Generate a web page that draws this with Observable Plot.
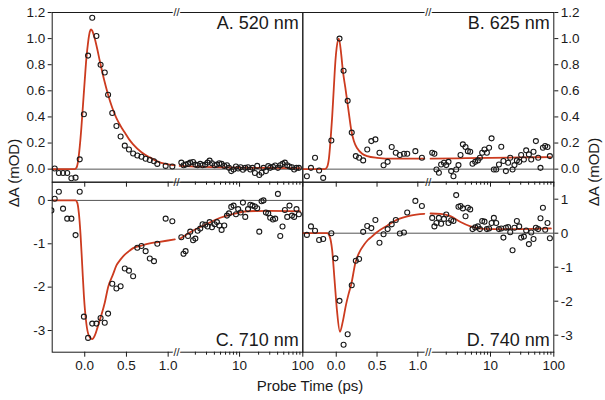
<!DOCTYPE html>
<html><head><meta charset="utf-8">
<script src="https://cdn.jsdelivr.net/npm/d3@7"></script>
<script src="https://cdn.jsdelivr.net/npm/@observablehq/plot@0.6"></script>
<style>
html,body{margin:0;padding:0;background:#fff;}
#chart{position:relative;width:605px;height:400px;font-family:"Liberation Sans",Arial,sans-serif;color:#1a1a1a;}
#chart svg{position:absolute;left:0;top:0;}
.lbl{position:absolute;font-size:15px;line-height:15px;white-space:nowrap;}
.rot{transform:translate(-50%,-50%) rotate(-90deg);}
</style></head><body><div id="chart"></div>
<script>
// ---------- data ----------
const tLin = [-0.40,-0.36,-0.31,-0.26,-0.21,-0.16,-0.11,-0.06,-0.01,0.04,0.09,0.14,0.19,0.24,0.28,0.33,0.38,0.43,0.48,0.53,0.58,0.63,0.68,0.73,0.78,0.83,0.87,0.92,0.97,1.05];
const tLog = [1.20,1.30,1.40,1.53,1.66,1.84,2.00,2.17,2.39,2.60,2.87,3.12,3.36,3.66,4.03,4.39,4.78,5.20,5.73,6.32,6.80,7.39,8.04,8.77,9.50,10.4,11.3,12.3,13.6,14.8,16.0,17.5,19.0,20.5,22.3,23.9,26.1,28.4,30.5,33.7,36.6,40.4,44.0,47.8,52.1,56.7,61.6,67.3,73.1,79.5,86.7];

const aLin = [null,0.005,-0.03,-0.03,-0.03,-0.07,-0.065,0.075,0.42,0.87,1.16,1.02,0.80,0.74,0.57,0.43,0.33,0.25,0.18,0.15,0.12,0.105,0.095,0.08,0.07,0.06,0.04,null,0.025,0.02];
const bLin = [null,-0.054,0.01,0.087,-0.01,-0.067,null,0.22,null,1.0,0.754,0.523,0.28,0.10,0.087,0.067,0.15,0.215,0.228,0.126,0.03,0.056,0.17,0.126,0.108,0.118,0.118,null,0.138,0.087];
const cLin = [-0.23,0.04,0.2,-0.19,-0.42,-0.42,-0.8,0.2,-2.68,-3.17,-2.84,-2.84,-2.71,-2.82,-2.61,-1.92,-2.03,-1.98,-1.57,-1.62,-1.75,-1.09,-1.05,-1.17,-1.34,-1.4,-1.0,null,-0.42,-0.48];
const dLin = [null,-0.05,0.20,0.07,-0.2,-0.17,null,0.0,-0.74,-1.99,-3.28,-2.97,-1.53,-0.81,-0.76,0.04,0.21,0.15,0.39,-0.28,-0.03,0.12,0.26,0.39,-0.01,0.02,0.61,null,0.95,0.8];

const aLog = [0.05,0.03,0.035,0.04,0.05,0.055,0.035,0.03,0.04,0.03,0.035,0.05,0.065,0.045,0.03,0.035,0.045,0.04,0.025,0.03,0.01,-0.015,-0.003,0.02,0.005,0.015,-0.005,0.01,0.015,-0.003,0.01,-0.03,0.025,-0.045,-0.028,0.01,-0.015,0.023,0.01,0.018,0.028,0.01,0.03,0.04,0.05,0.03,0.02,0.015,-0.003,0.01,0.01];
const bLog = [0.126,0.118,-0.003,-0.028,0.036,0.049,0.031,0.056,-0.015,-0.054,-0.003,0.031,0.108,0.19,0.17,0.138,0.133,0.041,0.056,0.067,0.087,0.126,0.151,0.126,0.164,0.236,-0.003,-0.003,0.036,0.172,0.062,-0.015,0.049,0.087,-0.003,0.031,0.067,0.056,0.108,0.074,0.144,0.113,0.074,0.133,0.215,0.087,0.01,0.164,0.177,0.17,0.1];
const cLog = [-0.85,-1.23,-1.17,-0.82,-0.72,-0.92,-0.88,-0.7,-0.65,-0.55,-0.56,-0.6,-0.5,-0.62,-0.55,-0.5,-0.58,-0.68,-0.58,-0.35,-0.3,-0.15,-0.12,-0.32,-0.2,-0.28,-0.05,-0.38,-0.2,-0.1,-0.12,-0.14,-0.18,-0.72,-0.02,0.0,-0.28,-0.3,-0.4,-0.44,-0.42,0.15,-0.82,-0.6,-0.22,-0.38,-0.12,-0.35,-0.38,-0.2,-0.32];
const dLog = [0.45,0.2,0.3,0.45,0.28,0.42,0.55,0.3,0.38,0.36,1.12,0.78,0.8,0.73,0.5,0.75,0.7,0.12,0.17,0.2,0.12,0.36,0.34,0.12,0.14,0.3,0.45,0.3,0.12,0.14,-0.13,0.16,0.18,0.03,-0.5,0.16,0.36,0.2,-0.13,-0.1,0.08,-0.32,0.02,-0.17,0.16,0.12,0.44,0.75,0.1,0.3,-0.15];

// fitted curves [time, value]
const fitALin = [[-0.40,0],[-0.12,0],[-0.10,0.01],[-0.08,0.06],[-0.06,0.17],[-0.04,0.32],[-0.02,0.5],[0.0,0.68],[0.02,0.85],[0.04,0.97],[0.06,1.05],[0.075,1.07],[0.09,1.06],[0.12,1.0],[0.15,0.92],[0.18,0.83],[0.23,0.69],[0.28,0.57],[0.33,0.47],[0.38,0.39],[0.43,0.33],[0.48,0.28],[0.53,0.23],[0.58,0.19],[0.68,0.13],[0.78,0.09],[0.87,0.06],[0.97,0.04],[1.08,0.03]];
const fitALog = [[1.13,0.025],[2,0.02],[5,0.014],[10,0.011],[30,0.009],[90,0.008]];
const fitBLin = [[-0.42,0],[-0.14,0],[-0.11,0.02],[-0.09,0.08],[-0.07,0.22],[-0.05,0.4],[-0.03,0.62],[-0.01,0.83],[0.005,0.93],[0.032,1.0],[0.061,0.88],[0.081,0.754],[0.11,0.63],[0.135,0.52],[0.163,0.39],[0.184,0.3],[0.216,0.215],[0.257,0.16],[0.318,0.118],[0.38,0.10],[0.5,0.087],[0.7,0.08],[1.08,0.08]];
const fitBLog = [[1.13,0.08],[3,0.083],[10,0.087],[30,0.09],[90,0.092]];
const fitCLin = [[-0.40,0],[-0.11,0],[-0.09,-0.05],[-0.07,-0.3],[-0.05,-0.8],[-0.03,-1.5],[-0.01,-2.2],[0.02,-2.85],[0.05,-3.12],[0.09,-3.2],[0.12,-3.12],[0.15,-2.95],[0.19,-2.7],[0.24,-2.36],[0.28,-2.0],[0.34,-1.7],[0.38,-1.5],[0.43,-1.36],[0.48,-1.25],[0.53,-1.17],[0.58,-1.1],[0.68,-1.04],[0.78,-0.99],[0.88,-0.96],[0.98,-0.93],[1.08,-0.9]];
const fitCLog = [[1.16,-0.88],[1.88,-0.69],[3.05,-0.54],[4.95,-0.4],[8.04,-0.31],[13.1,-0.25],[30,-0.24],[90,-0.25]];
const fitDLin = [[-0.42,0],[-0.11,0],[-0.08,-0.1],[-0.05,-0.5],[-0.02,-1.4],[0.01,-2.3],[0.045,-2.9],[0.08,-2.6],[0.12,-2.1],[0.15,-1.8],[0.184,-1.5],[0.237,-0.85],[0.286,-0.55],[0.338,-0.35],[0.387,-0.2],[0.436,-0.1],[0.494,0.02],[0.624,0.22],[0.747,0.4],[0.91,0.52],[1.08,0.57]];
const fitDLog = [[1.13,0.58],[1.62,0.57],[2.33,0.5],[3.36,0.33],[4.83,0.2],[7.8,0.13],[14.4,0.12],[48.3,0.13],[90,0.14]];

// axis ticks
const xMajor = [0, 0.5, 1.0, 10, 100];
const xMajorLabels = ["0.0", "0.5", "1.0", "10", "100"];
const xMinor = [2,3,4,5,6,7,8,9,20,30,40,50,60,70,80,90];
const yTicksTop = [0, 0.2, 0.4, 0.6, 0.8, 1.0, 1.2];
const yTicksC = [0, -1, -2, -3];
const yTicksD = [1, 0, -1, -2, -3];
const titles = ["A. 520 nm", "B. 625 nm", "C. 710 nm", "D. 740 nm"];

// ---------- rendering ----------
const RED = "#cc3b1f", INK = "#1a1a1a";
const FONT = '"Liberation Sans", Arial, sans-serif';
// broken x axis: linear segment up to the break, then log segment
const cols = {
  left:  {lo: -0.39, off: 1.098, k: 0.758, brk: 1.1, x0: 51.7, x1: 302.3},
  right: {lo: -0.41, off: 1.115, k: 0.776, brk: 1.128, x0: 302.3, x1: 553.3}
};
const toU = (c, t) => t <= 1.1 ? t : c.off + c.k * Math.log10(t);

function panel({col, top, lin, log, fitLin, fitLog, yDomain, yTicks, yFmt, side, title, xLabels}) {
  const c = cols[col];
  const pts = [];
  tLin.forEach((t, i) => { if (lin[i] != null) pts.push({u: toU(c, t), v: lin[i]}); });
  tLog.forEach((t, i) => { if (log[i] != null) pts.push({u: toU(c, t), v: log[i]}); });
  const fit = [
    ...fitLin.map(([t, v]) => ({u: toU(c, t), v, s: "lin"})),
    ...fitLog.map(([t, v]) => ({u: toU(c, t), v, s: "log"}))
  ];
  const majU = xMajor.map(t => toU(c, t));
  const lab = new Map(majU.map((u, i) => [u, xMajorLabels[i]]));
  const minU = xMinor.map(t => toU(c, t));
  const marks = [
    Plot.ruleY([0], {stroke: "#555", strokeWidth: 1}),
    Plot.line(fit, {x: "u", y: "v", z: "s", stroke: RED, strokeWidth: 1.8, curve: "monotone-x", clip: true}),
    Plot.dot(pts, {x: "u", y: "v", r: 2.5, stroke: INK, strokeWidth: 1.1, fill: "none", clip: true}),
    Plot.frame({stroke: INK, strokeWidth: 1}),
    Plot.axisX({ticks: majU, anchor: "bottom", tickSize: 5, tickPadding: 3, label: null,
      tickFormat: u => xLabels ? lab.get(u) : ""}),
    Plot.axisX({ticks: minU, anchor: "bottom", tickSize: 3, label: null, tickFormat: () => ""}),
    Plot.axisY({ticks: yTicks, anchor: side, tickSize: 4, tickPadding: 3, label: null, tickFormat: yFmt}),
    Plot.text([title], {frameAnchor: top ? "top-right" : "bottom-right", lineAnchor: top ? "top" : "bottom",
      dx: -4, dy: top ? 4 : -6, fontSize: 18, textAnchor: "end", fill: INK}),
    Plot.text(["//"], {x: c.brk, frameAnchor: "bottom", lineAnchor: "middle", fontSize: 11, fill: INK,
      stroke: "white", strokeWidth: 3})
  ];
  if (top) marks.push(Plot.text(["//"], {x: c.brk, frameAnchor: "top", lineAnchor: "middle", fontSize: 11,
      fill: INK, stroke: "white", strokeWidth: 3}));
  return Plot.plot({
    width: 605, height: 400,
    marginLeft: c.x0, marginRight: 605 - c.x1,
    marginTop: top ? 12 : 181.7, marginBottom: 400 - (top ? 181.7 : 351.7),
    x: {domain: [c.lo, c.off + 2 * c.k], label: null},
    y: {domain: yDomain, label: null},
    style: {fontFamily: FONT, fontSize: "13.5px", color: INK, background: "transparent", overflow: "visible"},
    marks
  });
}

const f1 = d3.format(".1f");
const fi = d => String(d);
const root = document.getElementById("chart");
root.append(
  panel({col: "left", top: true, lin: aLin, log: aLog, fitLin: fitALin, fitLog: fitALog,
    yDomain: [-0.1, 1.2], yTicks: yTicksTop, yFmt: f1, side: "left", title: titles[0], xLabels: false}),
  panel({col: "right", top: true, lin: bLin, log: bLog, fitLin: fitBLin, fitLog: fitBLog,
    yDomain: [-0.1, 1.2], yTicks: yTicksTop, yFmt: f1, side: "right", title: titles[1], xLabels: false}),
  panel({col: "left", top: false, lin: cLin, log: cLog, fitLin: fitCLin, fitLog: fitCLog,
    yDomain: [-3.5, 0.42], yTicks: yTicksC, yFmt: fi, side: "left", title: titles[2], xLabels: true}),
  panel({col: "right", top: false, lin: dLin, log: dLog, fitLin: fitDLin, fitLog: fitDLog,
    yDomain: [-3.5, 1.5], yTicks: yTicksD, yFmt: fi, side: "right", title: titles[3], xLabels: true})
);

function label(text, x, y, rotate) {
  const d = document.createElement("div");
  d.className = "lbl" + (rotate ? " rot" : "");
  d.textContent = text;
  d.style.left = x + "px"; d.style.top = y + "px";
  if (!rotate) d.style.transform = "translate(-50%, 0)";
  root.append(d);
}
label("ΔA (mOD)", 13, 173, true);
label("ΔA (mOD)", 593, 172, true);
label("Probe Time (ps)", 310, 378, false);
</script></body></html>
